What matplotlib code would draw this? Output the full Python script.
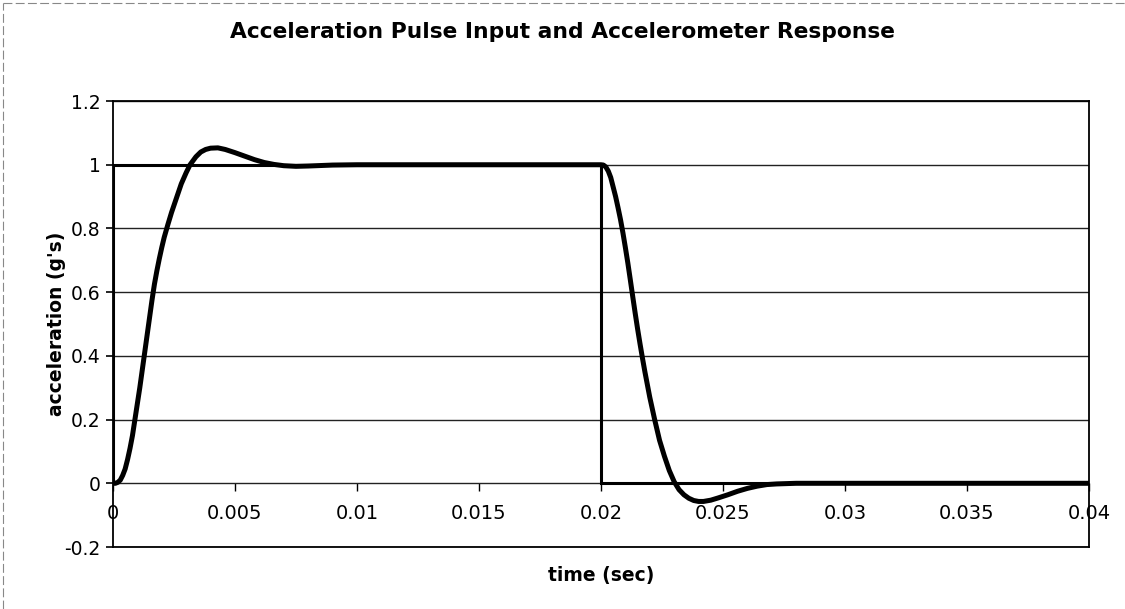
import matplotlib

matplotlib.use("Agg")
import matplotlib.pyplot as plt
from matplotlib.lines import Line2D
from matplotlib.ticker import FuncFormatter

# pulse input (g's) vs time (sec)
step_t = [0.0, 0.0, 0.020, 0.020, 0.040]
step_g = [0.0, 1.0, 1.0, 0.0, 0.0]

# accelerometer response (time in ms here, scaled below)
resp_ms = [0.0, 0.1, 0.2, 0.3, 0.4, 0.5, 0.6, 0.7, 0.8, 0.9,
           1.0, 1.1, 1.2, 1.3, 1.4, 1.5, 1.6, 1.7, 1.8, 1.9,
           2.0, 2.1, 2.25, 2.4, 2.6, 2.8, 3.0, 3.16, 3.4, 3.6,
           3.8, 4.0, 4.3, 4.6, 5.0, 5.4, 5.8, 6.2, 6.6, 7.0,
           7.5, 8.0, 9.0, 10.0, 20.0, 20.1, 20.2, 20.3, 20.4, 20.5,
           20.6, 20.7, 20.8, 20.9, 21.0, 21.1, 21.2, 21.3, 21.4, 21.5,
           21.6, 21.7, 21.8, 21.9, 22.0, 22.2, 22.4, 22.6, 22.8, 23.0,
           23.2, 23.4, 23.6, 23.8, 24.0, 24.2, 24.5, 24.8, 25.2, 25.6,
           26.0, 26.4, 26.8, 27.2, 28.0, 30.0, 40.0]
resp_g = [0.0, 0.0, 0.003, 0.01, 0.025, 0.045, 0.075, 0.11, 0.15, 0.2,
          0.25, 0.3, 0.355, 0.41, 0.465, 0.52, 0.575, 0.625, 0.667, 0.705,
          0.74, 0.772, 0.812, 0.85, 0.895, 0.94, 0.975, 1.0, 1.025, 1.04,
          1.048, 1.052, 1.053, 1.048, 1.038, 1.027, 1.016, 1.007, 1.001, 0.997,
          0.995, 0.996, 0.999, 1.0, 1.0, 0.999, 0.993, 0.98, 0.96, 0.93,
          0.9, 0.865, 0.828, 0.786, 0.74, 0.692, 0.64, 0.587, 0.535, 0.485,
          0.438, 0.393, 0.35, 0.31, 0.27, 0.2, 0.135, 0.085, 0.04, 0.005,
          -0.02, -0.036, -0.047, -0.054, -0.057, -0.057, -0.053, -0.046, -0.036, -0.025,
          -0.016, -0.009, -0.004, -0.002, 0.0, 0.0, 0.0]
resp_t = [ms / 1000.0 for ms in resp_ms]

x_ticks = [0, 0.005, 0.01, 0.015, 0.02, 0.025, 0.03, 0.035, 0.04]
y_ticks = [-0.2, 0, 0.2, 0.4, 0.6, 0.8, 1.0, 1.2]

plt.rcParams.update({
    "font.family": "DejaVu Sans",
    "axes.linewidth": 1.3,
})

fig = plt.figure(figsize=(11.25, 6.09), dpi=100)
ax = fig.add_axes([0.1004, 0.1018, 0.8676, 0.7323])

ax.set_xlim(0, 0.04)
ax.set_ylim(-0.2, 1.2)
ax.set_yticks(y_ticks)
ax.yaxis.set_major_formatter(FuncFormatter(lambda v, _: f"{v:g}"))
ax.tick_params(axis="y", direction="out", length=5, width=1.2, labelsize=13.5, pad=4)
ax.set_xticks([])
ax.grid(True, axis="y", color="#222222", linewidth=1.0)
ax.set_axisbelow(True)

# x axis crosses at y = 0, as in the spreadsheet original
sec = ax.secondary_xaxis(0.2 / 1.4)
sec.set_xticks(x_ticks)
sec.xaxis.set_major_formatter(FuncFormatter(lambda v, _: f"{v:g}"))
sec.tick_params(direction="out", length=6, width=1.0, labelsize=14, pad=9)
sec.spines["bottom"].set_visible(False)

ax.plot(step_t, step_g, color="black", linewidth=2.2, solid_joinstyle="miter", zorder=3)
ax.plot(resp_t, resp_g, color="black", linewidth=3.6, solid_capstyle="round",
        solid_joinstyle="round", zorder=4)

ax.set_ylabel("acceleration (g's)", fontsize=13.5, fontweight="bold")
ax.yaxis.set_label_coords(-0.048, 0.5)
ax.set_xlabel("time (sec)", fontsize=13.5, fontweight="bold", labelpad=14)
fig.text(0.5, 0.947, "Acceleration Pulse Input and Accelerometer Response",
         ha="center", va="center", fontsize=15.7, fontweight="bold")

# faint scanned frame around the chart
fig.add_artist(Line2D([0.003, 1.0], [0.995, 0.995], transform=fig.transFigure,
                      color="#888888", linewidth=0.8, linestyle=(0, (8, 3))))
fig.add_artist(Line2D([0.003, 0.003], [0.0, 0.995], transform=fig.transFigure,
                      color="#888888", linewidth=0.8, linestyle=(0, (8, 3))))

fig.savefig("out.png", dpi=100, facecolor="white")
